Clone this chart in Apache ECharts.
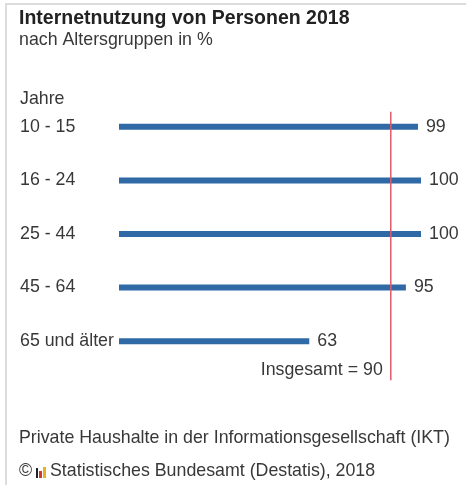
<!DOCTYPE html>
<html>
<head>
<meta charset="utf-8">
<script src="https://cdn.jsdelivr.net/npm/echarts@6/dist/echarts.min.js"></script>
<style>
  html, body { margin: 0; padding: 0; background: #fff; }
  #chart { width: 466px; height: 485px; }
</style>
</head>
<body>
<div id="chart"></div>
<script>
// Altersgruppen und Anteil in %
var categories = ['10 - 15', '16 - 24', '25 - 44', '45 - 64', '65 und älter'];
var values = [99, 100, 100, 95, 63];
var insgesamt = 90;

var myChart = echarts.init(document.getElementById('chart'));

var font = 'Liberation Sans, Arial, sans-serif';
var txt = { fontFamily: font, fontSize: 17.8, fontWeight: 'normal', color: '#383838' };

var option = {
    backgroundColor: '#fff',
    animation: false,
    title: [
        {
            text: 'Internetnutzung von Personen 2018',
            left: 19, top: 9, padding: 0,
            textStyle: { fontFamily: font, fontSize: 19.5, fontWeight: 'bold', color: '#222' }
        },
        { text: 'nach Altersgruppen in %', left: 19, top: 31, padding: 0, textStyle: txt },
        { text: 'Jahre', left: 20, top: 90, padding: 0, textStyle: txt },
        { text: 'Private Haushalte in der Informationsgesellschaft (IKT)', left: 19, top: 429, padding: 0, textStyle: txt },
        { text: '©', left: 19, top: 462, padding: 0, textStyle: txt },
        { text: 'Statistisches Bundesamt (Destatis), 2018', left: 50, top: 462, padding: 0, textStyle: txt }
    ],
    graphic: [
        // Rahmen oben und links
        { type: 'rect', left: 5, top: 3, shape: { width: 461, height: 2 }, style: { fill: '#dcdcdc' } },
        { type: 'rect', left: 5, top: 3, shape: { width: 2, height: 482 }, style: { fill: '#dcdcdc' } },
        // kleines Logo
        { type: 'rect', left: 36, top: 468, shape: { width: 2, height: 10 }, style: { fill: '#222' } },
        { type: 'rect', left: 39, top: 471, shape: { width: 3, height: 7 }, style: { fill: '#d9342b' } },
        { type: 'rect', left: 43, top: 467, shape: { width: 3, height: 11 }, style: { fill: '#e8b21f' } }
    ],
    grid: { left: 119, right: 45, top: 100, height: 268 },
    xAxis: {
        type: 'value', min: 0, max: 100,
        show: false
    },
    yAxis: {
        type: 'category',
        data: categories,
        inverse: true,
        axisLine: { show: false },
        axisTick: { show: false },
        splitLine: { show: false },
        axisLabel: {
            align: 'left', margin: 99,
            fontFamily: font, fontSize: 17.8, color: '#383838'
        }
    },
    series: [
        {
            type: 'bar',
            data: values,
            barWidth: 6,
            itemStyle: { color: '#2f6aa6' },
            label: {
                show: true, position: 'right', distance: 8,
                fontFamily: font, fontSize: 17.8, color: '#383838'
            },
            z: 2
        },
        {
            // Linie Insgesamt
            type: 'custom',
            data: [[insgesamt, 0]],
            z: 3,
            renderItem: function (params, api) {
                var p0 = api.coord([api.value(0), 0]);
                var p4 = api.coord([api.value(0), categories.length - 1]);
                var band = api.size([0, 1])[1];
                var top = p0[1] - band * 0.28;
                var bottom = p4[1] + band * 0.73;
                return {
                    type: 'group',
                    children: [
                        {
                            type: 'line',
                            shape: { x1: p0[0], y1: top, x2: p0[0], y2: bottom },
                            style: { stroke: '#de5a6c', lineWidth: 1.5 }
                        },
                        {
                            type: 'text',
                            style: {
                                text: 'Insgesamt = ' + api.value(0),
                                x: p0[0] - 8, y: bottom - 10,
                                align: 'right', verticalAlign: 'middle',
                                fontFamily: font, fontSize: 17.8, fill: '#383838'
                            }
                        }
                    ]
                };
            }
        }
    ]
};

myChart.setOption(option);
</script>
</body>
</html>
